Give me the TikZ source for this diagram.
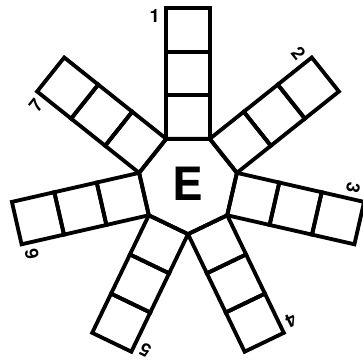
\documentclass[tikz,border=0pt]{standalone}
\usepackage{fontspec}
\setsansfont{TeX Gyre Heros}
\usetikzlibrary{calc}

\begin{document}
\begin{tikzpicture}[
    line width=2.5pt,
    cell/.style={draw, minimum size=1cm, inner sep=0pt, outer sep=0pt},
    numtag/.style={inner sep=3pt, anchor=east, font=\sffamily\bfseries\large}
]
    \useasboundingbox (-4.322,-4.046) rectangle (4.023,4.230);

    % Hub
    \node[font=\sffamily\bfseries\fontsize{30}{30}\selectfont] (hub) at (0,0) {E};
    \draw (64.286:1.1524) -- (115.714:1.1524) -- (167.143:1.1524) -- (218.571:1.1524)
          -- (270:1.1524) -- (321.429:1.1524) -- (12.857:1.1524) -- cycle;

    % Arm 1 (top)
    \node[cell, anchor=south] (A1) at (90:1.0383) {};
    \node[cell, anchor=south] (A2) at (A1.north) {};
    \node[cell, anchor=south] (A3) at (A2.north) {};
    \node[numtag] (L1) at ($(A3.north west)!0.18!(A3.south west)$) {1};

    % Arm 2
    \node[cell, rotate=-51.429, anchor=south] (B1) at (38.571:1.0383) {};
    \node[cell, rotate=-51.429, anchor=south] (B2) at (B1.north) {};
    \node[cell, rotate=-51.429, anchor=south] (B3) at (B2.north) {};
    \node[numtag, rotate=-51.429] (L2) at ($(B3.north west)!0.18!(B3.south west)$) {2};

    % Arm 3
    \node[cell, rotate=-102.857, anchor=south] (C1) at (-12.857:1.0383) {};
    \node[cell, rotate=-102.857, anchor=south] (C2) at (C1.north) {};
    \node[cell, rotate=-102.857, anchor=south] (C3) at (C2.north) {};
    \node[numtag, rotate=-102.857] (L3) at ($(C3.north west)!0.32!(C3.south west)$) {3};

    % Arm 4
    \node[cell, rotate=-154.286, anchor=south] (D1) at (-64.286:1.0383) {};
    \node[cell, rotate=-154.286, anchor=south] (D2) at (D1.north) {};
    \node[cell, rotate=-154.286, anchor=south] (D3) at (D2.north) {};
    \node[numtag, rotate=-154.286] (L4) at ($(D3.north west)!0.18!(D3.south west)$) {4};

    % Arm 5
    \node[cell, rotate=154.286, anchor=south] (F1) at (-115.714:1.0383) {};
    \node[cell, rotate=154.286, anchor=south] (F2) at (F1.north) {};
    \node[cell, rotate=154.286, anchor=south] (F3) at (F2.north) {};
    \node[numtag, rotate=154.286] (L5) at ($(F3.north west)!0.18!(F3.south west)$) {5};

    % Arm 6
    \node[cell, rotate=102.857, anchor=south] (G1) at (-167.143:1.0383) {};
    \node[cell, rotate=102.857, anchor=south] (G2) at (G1.north) {};
    \node[cell, rotate=102.857, anchor=south] (G3) at (G2.north) {};
    \node[numtag, rotate=102.857] (L6) at ($(G3.north west)!0.18!(G3.south west)$) {6};

    % Arm 7
    \node[cell, rotate=51.429, anchor=south] (H1) at (141.429:1.0383) {};
    \node[cell, rotate=51.429, anchor=south] (H2) at (H1.north) {};
    \node[cell, rotate=51.429, anchor=south] (H3) at (H2.north) {};
    \node[numtag, rotate=51.429] (L7) at ($(H3.north west)!0.18!(H3.south west)$) {7};
\end{tikzpicture}
\end{document}
